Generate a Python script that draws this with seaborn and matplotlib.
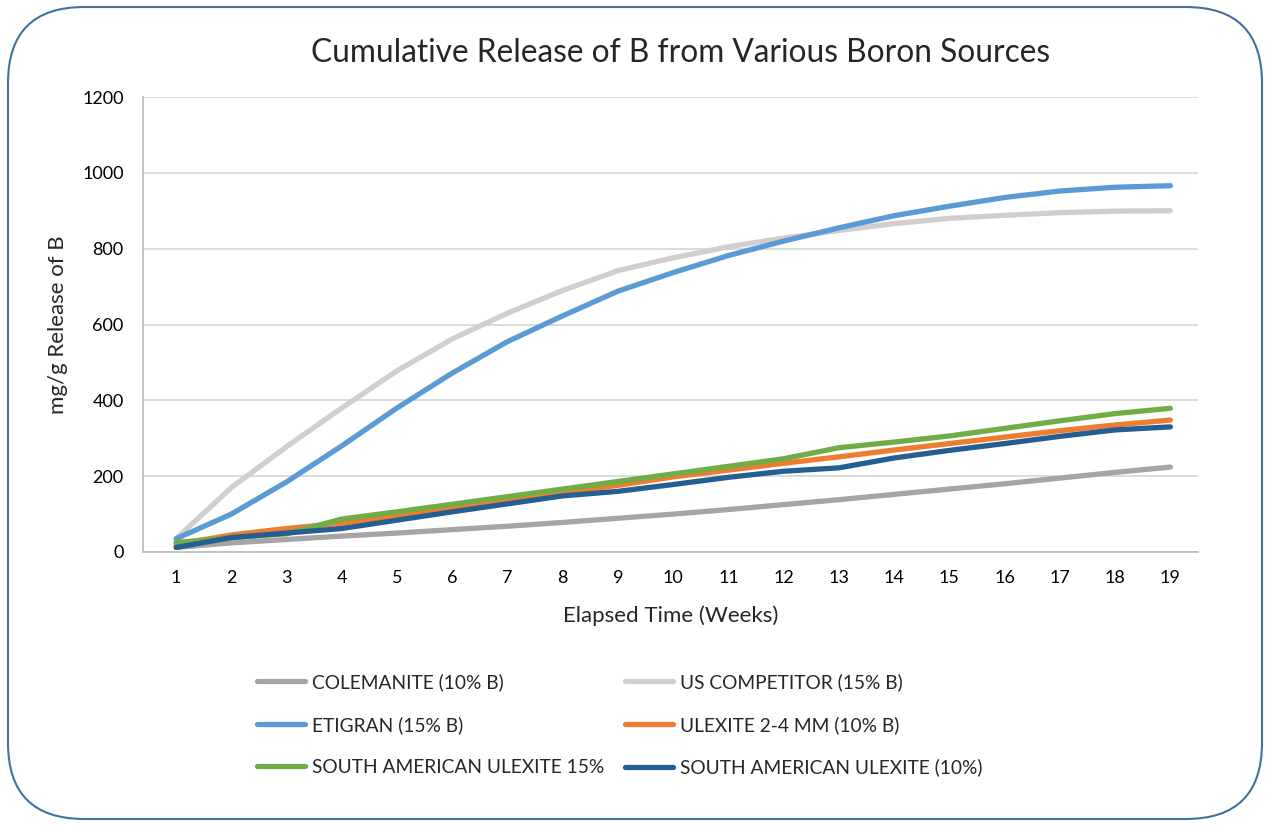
import matplotlib
matplotlib.use("Agg")
import matplotlib.pyplot as plt
from matplotlib.patches import FancyBboxPatch
from matplotlib.lines import Line2D
import seaborn as sns
import pandas as pd

# data
weeks = list(range(1, 20))
colemanite = [12, 24, 33, 42, 50, 59, 68, 78, 89, 100, 112, 125, 138, 152, 166, 180, 195, 210, 224]
us_competitor = [35, 170, 278, 380, 478, 562, 630, 690, 742, 776, 805, 828, 848, 866, 880, 888, 895, 899, 900]
etigran = [35, 100, 185, 280, 380, 472, 555, 623, 688, 737, 782, 820, 855, 887, 912, 935, 952, 962, 966]
ulexite_24 = [20, 45, 62, 76, 96, 116, 136, 156, 176, 198, 216, 234, 251, 269, 286, 303, 320, 335, 348]
sa_ulexite_15 = [25, 38, 48, 87, 106, 126, 146, 166, 186, 206, 226, 246, 275, 290, 306, 326, 346, 365, 379]
sa_ulexite_10 = [12, 38, 50, 62, 84, 106, 127, 148, 160, 178, 197, 213, 222, 248, 268, 286, 305, 322, 330]

series = {
    "COLEMANITE (10% B)": colemanite,
    "US COMPETITOR (15% B)": us_competitor,
    "ETIGRAN (15% B)": etigran,
    "ULEXITE 2-4 MM (10% B)": ulexite_24,
    "SOUTH AMERICAN ULEXITE 15%": sa_ulexite_15,
    "SOUTH AMERICAN ULEXITE (10%)": sa_ulexite_10,
}
colors = {
    "COLEMANITE (10% B)": "#A5A5A5",
    "US COMPETITOR (15% B)": "#D0CECE",
    "ETIGRAN (15% B)": "#5B9BD5",
    "ULEXITE 2-4 MM (10% B)": "#ED7D31",
    "SOUTH AMERICAN ULEXITE 15%": "#70AD47",
    "SOUTH AMERICAN ULEXITE (10%)": "#255E91",
}

df = pd.DataFrame(
    [(w, name, v) for name, vals in series.items() for w, v in zip(weeks, vals)],
    columns=["week", "source", "value"],
)

sns.set_style("white")
plt.rcParams["font.family"] = ["Lato", "DejaVu Sans"]

W, H = 1270, 825
fig = plt.figure(figsize=(W / 100, H / 100), dpi=100)
ax = fig.add_axes([143 / W, 1 - 552 / H, (1198 - 143) / W, (552 - 97) / H])

sns.lineplot(data=df, x="week", y="value", hue="source", hue_order=list(series),
             palette=colors, linewidth=3.8, ax=ax, legend=False)

ax.set_xlim(0.4, 19.5)
ax.set_ylim(0, 1200)
ax.set_xticks(weeks)
ax.set_yticks(range(0, 1201, 200))
ax.yaxis.grid(True, color="#D9D9D9", linewidth=1.3)
ax.set_axisbelow(True)
for s in ["top", "right"]:
    ax.spines[s].set_visible(False)
for s in ["left", "bottom"]:
    ax.spines[s].set_color("#BFBFBF")
    ax.spines[s].set_linewidth(1.3)
ax.tick_params(axis="both", length=0, labelsize=13, colors="#000000")
ax.tick_params(axis="y", pad=14)
ax.tick_params(axis="x", pad=13)
ax.set_xlabel("Elapsed Time (Weeks)", fontsize=16, labelpad=14)
ax.set_ylabel("mg/g Release of B", fontsize=16, labelpad=10)

fig.text(681 / W, 1 - 53 / H, "Cumulative Release of B from Various Boron Sources",
         ha="center", va="center", fontsize=22.8)

# legend: two columns placed separately, row-major like the reference
columns = [
    (257, ["COLEMANITE (10% B)", "ETIGRAN (15% B)", "SOUTH AMERICAN ULEXITE 15%"]),
    (625, ["US COMPETITOR (15% B)", "ULEXITE 2-4 MM (10% B)", "SOUTH AMERICAN ULEXITE (10%)"]),
]
for x0, names in columns:
    handles = [Line2D([], [], color=colors[n], linewidth=3.8) for n in names]
    leg = fig.legend(handles, names, loc="upper left", bbox_to_anchor=(x0 / W, 1 - 673 / H),
                     frameon=False, fontsize=13.8, handlelength=2.5, handletextpad=0.37,
                     labelspacing=1.3, borderpad=0, borderaxespad=0)

border = FancyBboxPatch((8 / W, 6 / H), 1254 / W, 812 / H,
                        boxstyle="round,pad=0,rounding_size=0.06",
                        transform=fig.transFigure, facecolor="none",
                        edgecolor="#41719C", linewidth=1.5, mutation_aspect=W / H)
fig.patches.append(border)

fig.savefig("out.png", dpi=100)
